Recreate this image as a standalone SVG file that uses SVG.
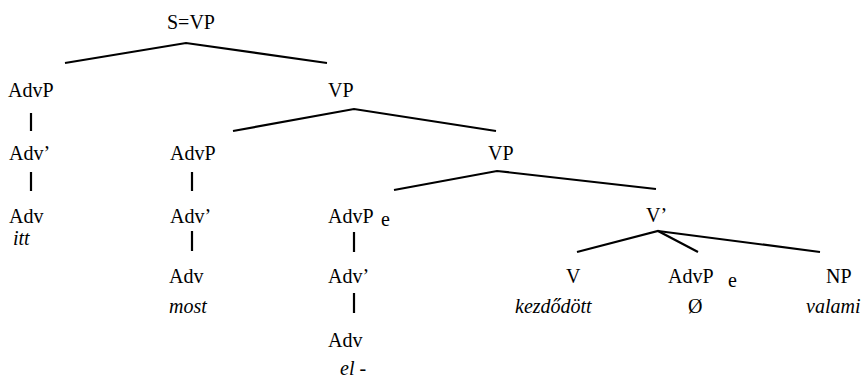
<svg xmlns="http://www.w3.org/2000/svg" width="866" height="378" viewBox="0 0 866 378">
<style>
text{font-size:20px;fill:#000}
.i{font-style:italic}
line,polyline{stroke:#000;stroke-width:2.2;fill:none}
</style>
<rect width="866" height="378" fill="#fff"/>
<g id="connectors">
<polyline points="65,63 186,43 327,63"/>
<polyline points="233,131 354,109 496,131"/>
<polyline points="394,190 497,171 656,189"/>
<polyline points="577,252 658,231 698,252"/>
<line x1="658" y1="231" x2="820" y2="252"/>
<line x1="31" y1="113" x2="31" y2="131"/>
<line x1="31" y1="172" x2="31" y2="191"/>
<line x1="192" y1="172" x2="192" y2="191"/>
<line x1="192" y1="231" x2="192" y2="251"/>
<line x1="354" y1="232" x2="354" y2="252"/>
<line x1="354" y1="293" x2="354" y2="313"/>
</g>
<g font-family="Liberation Serif">
<g id="n-s"><text x="167" y="29">S=VP</text></g>
<g id="n-advp1"><text x="8" y="97">AdvP</text></g>
<g id="n-vp1"><text x="328" y="97">VP</text></g>
<g id="n-advbar1"><text x="9" y="160">Adv’</text></g>
<g id="n-adv1"><text x="9" y="223">Adv</text><text class="i" x="13" y="245">itt</text></g>
<g id="n-advp2"><text x="170" y="160">AdvP</text></g>
<g id="n-vp2"><text x="488" y="160">VP</text></g>
<g id="n-advbar2"><text x="170" y="223">Adv’</text></g>
<g id="n-adv2"><text x="169" y="283">Adv</text><text class="i" x="169" y="313">most</text></g>
<g id="n-advp3"><text x="328" y="223">AdvP</text><text x="381" y="226">e</text></g>
<g id="n-advbar3"><text x="328" y="283">Adv’</text></g>
<g id="n-adv3"><text x="328" y="347">Adv</text><text class="i" x="340" y="375">el -</text></g>
<g id="n-vbar"><text x="646" y="222">V’</text></g>
<g id="n-v"><text x="566" y="283">V</text><text class="i" x="515" y="313">kezdődött</text></g>
<g id="n-advp4"><text x="668" y="283">AdvP</text><text x="728" y="287">e</text></g>
<g id="n-null"><text x="688" y="313">Ø</text></g>
<g id="n-np"><text x="826" y="283">NP</text><text class="i" x="806" y="313">valami</text></g>
</g>
</svg>
